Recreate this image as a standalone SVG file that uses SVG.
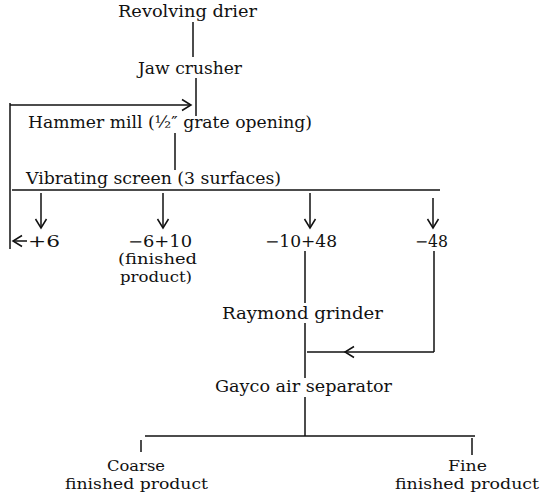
<svg xmlns="http://www.w3.org/2000/svg" width="541" height="498" viewBox="0 0 541 498">
<style>
text{font-family:"DejaVu Serif","Liberation Serif",serif;font-size:16px;fill:#111;}
text.s{font-size:15px;}
.c line,.c path{stroke:#111;stroke-width:1.5;fill:none;}
</style>
<defs>
<marker id="chev" viewBox="-11 -7 13 14" refX="0" refY="0" markerWidth="13" markerHeight="14" markerUnits="userSpaceOnUse" orient="auto">
<path d="M-9,-5.5 L0,0 L-9,5.5" fill="none" stroke="#111" stroke-width="1.5"/>
</marker>
</defs>
<rect width="541" height="498" fill="#fff"/>
<g class="c" id="connectors">
<line x1="193" y1="22" x2="193" y2="57"/>
<line x1="196" y1="78" x2="196" y2="116"/>
<line x1="10" y1="105" x2="191" y2="105" marker-end="url(#chev)"/>
<line x1="10" y1="103" x2="10" y2="249"/>
<line x1="175" y1="133" x2="175" y2="170"/>
<line x1="12" y1="190" x2="440" y2="190"/>
<line x1="41" y1="193" x2="41" y2="228" marker-end="url(#chev)"/>
<line x1="163" y1="193" x2="163" y2="228" marker-end="url(#chev)"/>
<line x1="310" y1="193" x2="310" y2="228" marker-end="url(#chev)"/>
<line x1="433" y1="198" x2="433" y2="228" marker-end="url(#chev)"/>
<line x1="27" y1="241" x2="13" y2="241" marker-end="url(#chev)"/>
<line x1="305" y1="251" x2="305" y2="303"/>
<line x1="305" y1="323" x2="305" y2="378"/>
<line x1="434" y1="251" x2="434" y2="352"/>
<line x1="434" y1="352" x2="345" y2="352" marker-end="url(#chev)"/>
<line x1="345" y1="352" x2="307" y2="352"/>
<line x1="305" y1="397" x2="305" y2="436"/>
<line x1="145" y1="436" x2="475" y2="436"/>
<line x1="141" y1="440" x2="141" y2="452"/>
<line x1="472" y1="438" x2="472" y2="455"/>
</g>
<g id="drier"><text x="118" y="17" textLength="139" lengthAdjust="spacingAndGlyphs">Revolving drier</text></g>
<g id="jaw"><text x="138" y="74" textLength="104" lengthAdjust="spacingAndGlyphs">Jaw crusher</text></g>
<g id="hammer"><text x="28" y="128" textLength="284" lengthAdjust="spacingAndGlyphs">Hammer mill (½″ grate opening)</text></g>
<g id="screen"><text x="26" y="184" textLength="255" lengthAdjust="spacingAndGlyphs">Vibrating screen (3 surfaces)</text></g>
<g id="plus6"><text x="28" y="247" textLength="32" lengthAdjust="spacingAndGlyphs">+6</text></g>
<g id="m6p10">
<text x="128" y="247" textLength="64" lengthAdjust="spacingAndGlyphs">−6+10</text>
<text class="s" x="118" y="264" textLength="79" lengthAdjust="spacingAndGlyphs">(finished</text>
<text class="s" x="120" y="282" textLength="72" lengthAdjust="spacingAndGlyphs">product)</text>
</g>
<g id="m10p48"><text x="265" y="247" textLength="72" lengthAdjust="spacingAndGlyphs">−10+48</text></g>
<g id="m48"><text x="415" y="247" textLength="33" lengthAdjust="spacingAndGlyphs">−48</text></g>
<g id="raymond"><text x="222" y="319" textLength="161" lengthAdjust="spacingAndGlyphs">Raymond grinder</text></g>
<g id="gayco"><text x="215" y="392" textLength="177" lengthAdjust="spacingAndGlyphs">Gayco air separator</text></g>
<g id="coarse">
<text class="s" x="107" y="471" textLength="58" lengthAdjust="spacingAndGlyphs">Coarse</text>
<text class="s" x="65" y="489" textLength="143" lengthAdjust="spacingAndGlyphs">finished product</text>
</g>
<g id="fine">
<text class="s" x="448" y="471" textLength="39" lengthAdjust="spacingAndGlyphs">Fine</text>
<text class="s" x="395" y="489" textLength="144" lengthAdjust="spacingAndGlyphs">finished product</text>
</g>
</svg>
